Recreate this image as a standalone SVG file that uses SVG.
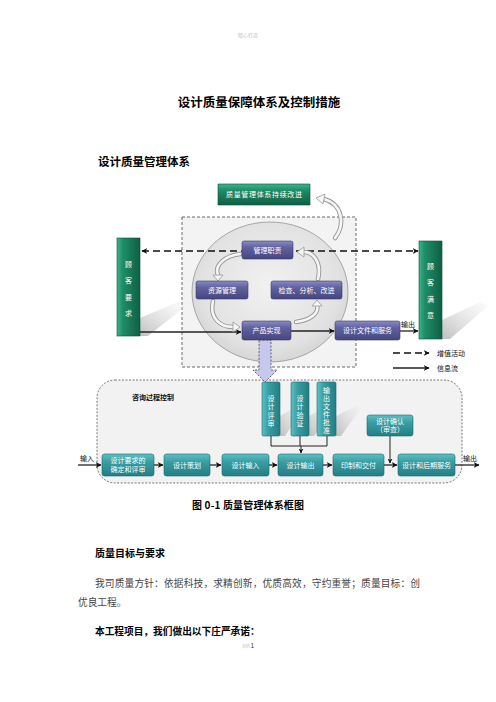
<svg xmlns="http://www.w3.org/2000/svg" width="496" height="702" viewBox="0 0 496 702">
<defs>
<style>
.cjk{font-family:"Noto Sans CJK SC","Noto Sans",sans-serif}
.hd{font-family:"Noto Sans CJK SC",sans-serif;font-weight:bold;fill:#000}
.body{font-family:"Noto Sans CJK SC",sans-serif;fill:#444}
.wt{font-family:"Noto Sans CJK SC",sans-serif;fill:#fff;font-size:7px;text-anchor:middle}
.lbl{font-family:"Noto Sans CJK SC",sans-serif;fill:#111;font-size:7px}
.green{fill:url(#gGreen);stroke:#0d4f39;stroke-width:0.6}
.purple{fill:url(#gPurple);stroke:#3a3a6e;stroke-width:0.6}
.teal{fill:url(#gTeal);stroke:#1a6a70;stroke-width:0.6}
.solid{stroke:#222;stroke-width:1.3;fill:none}
.dash{stroke:#111;stroke-width:1.6;fill:none;stroke-dasharray:7 4}
.conn{stroke:#222;stroke-width:1;fill:none}
.cout{stroke:#999;stroke-width:4.5;fill:none;stroke-linecap:round}
.cin{stroke:#f6f6f6;stroke-width:2.6;fill:none;stroke-linecap:round}
.chead{fill:#f6f6f6;stroke:#999;stroke-width:0.8}
.shadow{fill:url(#gShadow)}
</style>
<linearGradient id="gGreen" x1="0" y1="0" x2="1" y2="0">
<stop offset="0" stop-color="#3db58c"/><stop offset="0.25" stop-color="#1f8d67"/><stop offset="1" stop-color="#0f5f44"/>
</linearGradient>
<linearGradient id="gGreenH" x1="0" y1="0" x2="0" y2="1">
<stop offset="0" stop-color="#3db58c"/><stop offset="0.3" stop-color="#1f8d67"/><stop offset="1" stop-color="#0f5f44"/>
</linearGradient>
<linearGradient id="gPurple" x1="0" y1="0" x2="0" y2="1">
<stop offset="0" stop-color="#8a8ac6"/><stop offset="0.35" stop-color="#62629f"/><stop offset="1" stop-color="#45457f"/>
</linearGradient>
<linearGradient id="gTeal" x1="0" y1="0" x2="0" y2="1">
<stop offset="0" stop-color="#5cc0c4"/><stop offset="0.35" stop-color="#3a9ea3"/><stop offset="1" stop-color="#237e84"/>
</linearGradient>
<linearGradient id="gTealV" x1="0" y1="0" x2="1" y2="0">
<stop offset="0" stop-color="#5cc0c4"/><stop offset="0.35" stop-color="#3a9ea3"/><stop offset="1" stop-color="#237e84"/>
</linearGradient>
<linearGradient id="gShadow" x1="0" y1="1" x2="1" y2="0">
<stop offset="0" stop-color="#b8b8b8" stop-opacity="0.9"/><stop offset="1" stop-color="#e8e8e8" stop-opacity="0.2"/>
</linearGradient>
<radialGradient id="gCircle" cx="0.5" cy="0.45" r="0.55">
<stop offset="0" stop-color="#f1f1f1"/><stop offset="0.8" stop-color="#e2e2e2"/><stop offset="1" stop-color="#d6d6d6"/>
</radialGradient>
<marker id="ah" viewBox="0 0 10 10" refX="9" refY="5" markerWidth="6" markerHeight="6" orient="auto-start-reverse" markerUnits="userSpaceOnUse">
<path d="M0,0 L10,5 L0,10 L3,5 z" fill="#111"/>
</marker>
<marker id="ahs" viewBox="0 0 10 10" refX="9" refY="5" markerWidth="5" markerHeight="5" orient="auto" markerUnits="userSpaceOnUse">
<path d="M0,0 L10,5 L0,10 L3,5 z" fill="#111"/>
</marker>
</defs>

<rect x="0" y="0" width="496" height="702" fill="#fff"/>

<!-- page texts -->
<text x="248" y="37" class="cjk" font-size="5" fill="#c4c4c4" text-anchor="middle">精心打造</text>
<text x="259" y="107" class="hd" font-size="12.5" text-anchor="middle">设计质量保障体系及控制措施</text>
<text x="98" y="166" class="hd" font-size="11.5">设计质量管理体系</text>

<!-- background containers -->
<g id="upper-frame">
<rect x="182" y="217" width="174" height="150" fill="#f3f3f3" stroke="#444" stroke-width="0.8" stroke-dasharray="3 2"/>
<ellipse cx="270" cy="292" rx="78" ry="70" fill="url(#gCircle)" stroke="#8a8a8a" stroke-width="0.7"/>
</g>
<g id="lower-frame">
<rect x="97" y="380" width="365" height="103" rx="18" fill="#f2f2f2" stroke="#444" stroke-width="0.7" stroke-dasharray="2 1.5"/>
<text x="132" y="399.5" class="lbl" font-size="7" font-weight="bold">咨询过程控制</text>
</g>

<!-- shadows -->
<polygon class="shadow" points="140,318 178,302 186,306 148,336 140,336"/>
<polygon class="shadow" points="442,320 480,302 488,306 450,339 442,339"/>
<polygon class="shadow" points="280,416 298,406 302,410 285,436 280,436"/>
<polygon class="shadow" points="309,416 327,406 331,410 314,436 309,436"/>
<polygon class="shadow" points="336,416 356,406 360,410 341,436 336,436"/>

<!-- connectors -->
<g id="connectors">
<line class="dash" x1="142" y1="251" x2="418" y2="251" marker-start="url(#ah)" marker-end="url(#ah)"/>
<line class="solid" x1="140" y1="332" x2="241" y2="332" marker-end="url(#ah)"/>
<line class="solid" x1="291" y1="331" x2="334" y2="331" marker-end="url(#ah)"/>
<line class="solid" x1="400" y1="331" x2="418" y2="331" marker-end="url(#ah)"/>
<text x="401" y="327" class="lbl" font-size="7">输出</text>

<!-- cycle arrows -->
<path class="cout" d="M240 254 C224 256 214 266 218 275"/>
<path class="cin" d="M240 254 C224 256 214 266 218 275"/>
<polygon class="chead" points="213,275 223,275 218,281"/>
<path class="cout" d="M213 301 C209 318 220 327 233 327"/>
<path class="cin" d="M213 301 C209 318 220 327 233 327"/>
<polygon class="chead" points="233,322 233,332 240,327"/>
<path class="cout" d="M296 322 C312 320 319 312 317 306"/>
<path class="cin" d="M296 322 C312 320 319 312 317 306"/>
<polygon class="chead" points="312,306 322,306 317,300"/>
<path class="cout" d="M318 279 C322 262 313 252 304 252"/>
<path class="cin" d="M318 279 C322 262 313 252 304 252"/>
<polygon class="chead" points="304,247 304,257 297,252"/>
<path class="cout" d="M335 238 C346 224 342 204 324 199"/>
<path class="cin" d="M335 238 C346 224 342 204 324 199"/>
<polygon class="chead" points="325,194 323,204 316,198"/>

<!-- big down arrow -->
<polygon points="259,340 271,340 271,370 277,370 265,382 253,370 259,370" fill="#c8c8ee" stroke="#333" stroke-width="0.7" stroke-dasharray="2 1.5"/>

<!-- lower connectors -->
<polyline class="conn" points="271,436 271,446 327,446 327,436"/>
<line class="conn" x1="300" y1="436" x2="300" y2="446"/>
<line class="conn" x1="301" y1="446" x2="301" y2="453" marker-end="url(#ahs)"/>
<line class="conn" x1="390" y1="436" x2="390" y2="463" marker-end="url(#ahs)"/>
<line class="solid" x1="78" y1="465" x2="101" y2="465" marker-end="url(#ah)"/>
<text x="80" y="461" class="lbl" font-size="7">输入</text>
<line class="solid" x1="154" y1="465" x2="163" y2="465" marker-end="url(#ah)"/>
<line class="solid" x1="210" y1="465" x2="221" y2="465" marker-end="url(#ah)"/>
<line class="solid" x1="269" y1="465" x2="277" y2="465" marker-end="url(#ah)"/>
<line class="solid" x1="323" y1="465" x2="332" y2="465" marker-end="url(#ah)"/>
<line class="solid" x1="384" y1="465" x2="397" y2="465" marker-end="url(#ah)"/>
<line class="solid" x1="455" y1="465" x2="479" y2="465" marker-end="url(#ah)"/>
<text x="463" y="461" class="lbl" font-size="7">输出</text>

<!-- legend -->
<line class="dash" x1="393" y1="353" x2="429" y2="353" stroke-dasharray="6 4" marker-end="url(#ah)"/>
<text x="437" y="356" class="lbl" font-size="7">增值活动</text>
<line class="solid" x1="393" y1="368" x2="429" y2="368" marker-end="url(#ah)"/>
<text x="437" y="371" class="lbl" font-size="7">信息流</text>
</g>

<!-- nodes -->
<g id="n-improve">
<rect x="218" y="184" width="92" height="21" fill="url(#gGreenH)" stroke="#0d4f39" stroke-width="0.6"/>
<text x="264" y="197" class="wt" textLength="76">质量管理体系持续改进</text>
</g>
<g id="n-customer-req">
<rect class="green" x="117" y="238" width="23" height="98"/>
<text x="128.5" y="266.5" class="wt">顾</text>
<text x="128.5" y="283" class="wt">客</text>
<text x="128.5" y="299.5" class="wt">要</text>
<text x="128.5" y="315.5" class="wt">求</text>
</g>
<g id="n-customer-sat">
<rect class="green" x="419" y="241" width="23" height="98"/>
<text x="430.5" y="268.5" class="wt">顾</text>
<text x="430.5" y="285" class="wt">客</text>
<text x="430.5" y="301.5" class="wt">满</text>
<text x="430.5" y="317.5" class="wt">意</text>
</g>
<g id="n-mgmt">
<rect class="purple" x="242" y="241" width="51" height="18" rx="2"/>
<text x="267.5" y="252.5" class="wt">管理职责</text>
</g>
<g id="n-resource">
<rect class="purple" x="196" y="281" width="52" height="18" rx="2"/>
<text x="222" y="292.5" class="wt">资源管理</text>
</g>
<g id="n-check">
<rect class="purple" x="271" y="281" width="71" height="18" rx="2"/>
<text x="306.5" y="292.5" class="wt" font-size="7.5">检查、分析、改进</text>
</g>
<g id="n-product">
<rect class="purple" x="242" y="321" width="49" height="19" rx="2"/>
<text x="266.5" y="333" class="wt">产品实现</text>
</g>
<g id="n-docs">
<rect class="purple" x="335" y="321" width="65" height="19" rx="2"/>
<text x="367.5" y="333" class="wt">设计文件和服务</text>
</g>

<g id="n-review">
<rect x="262" y="382" width="18" height="54" rx="1.5" fill="url(#gTealV)" stroke="#1a6a70" stroke-width="0.6"/>
<text x="271" y="400.5" class="wt">设</text>
<text x="271" y="409" class="wt">计</text>
<text x="271" y="417.5" class="wt">评</text>
<text x="271" y="426" class="wt">审</text>
</g>
<g id="n-verify">
<rect x="291" y="382" width="18" height="54" rx="1.5" fill="url(#gTealV)" stroke="#1a6a70" stroke-width="0.6"/>
<text x="300" y="400.5" class="wt">设</text>
<text x="300" y="409" class="wt">计</text>
<text x="300" y="417.5" class="wt">验</text>
<text x="300" y="426" class="wt">证</text>
</g>
<g id="n-approve">
<rect x="317" y="382" width="19" height="54" rx="1.5" fill="url(#gTealV)" stroke="#1a6a70" stroke-width="0.6"/>
<text x="326.5" y="387" class="wt" style="writing-mode:vertical-rl;text-anchor:start;letter-spacing:1px">输出文件批准</text>
</g>
<g id="n-confirm">
<rect class="teal" x="367" y="415" width="46" height="21" rx="2.5"/>
<text class="wt" font-size="6.5"><tspan x="390" y="423.5">设计确认</tspan><tspan x="390" y="432">（审查）</tspan></text>
</g>

<g id="n-req">
<rect class="teal" x="102" y="454" width="52" height="22" rx="2.5"/>
<text class="wt" font-size="6.5"><tspan x="128" y="463">设计要求的</tspan><tspan x="128" y="471.5">确定和评审</tspan></text>
</g>
<g id="n-plan">
<rect class="teal" x="164" y="454" width="46" height="22" rx="2.5"/>
<text x="187" y="467.5" class="wt">设计策划</text>
</g>
<g id="n-input">
<rect class="teal" x="222" y="454" width="47" height="22" rx="2.5"/>
<text x="245.5" y="467.5" class="wt">设计输入</text>
</g>
<g id="n-output">
<rect class="teal" x="278" y="454" width="45" height="22" rx="2.5"/>
<text x="300.5" y="467.5" class="wt">设计输出</text>
</g>
<g id="n-print">
<rect class="teal" x="333" y="454" width="51" height="22" rx="2.5"/>
<text x="358.5" y="467.5" class="wt">印制和交付</text>
</g>
<g id="n-service">
<rect class="teal" x="398" y="454" width="57" height="22" rx="2.5"/>
<text x="426.5" y="467.5" class="wt">设计和后期服务</text>
</g>

<!-- caption and body text -->
<text x="192" y="509" class="hd" font-size="10" textLength="112">图 0-1 质量管理体系框图</text>
<text x="95" y="557" class="hd" font-size="10">质量目标与要求</text>
<text x="95" y="587" class="body" font-size="9.7" textLength="325">我司质量方针：依据科技，求精创新，优质高效，守约重誉；质量目标：创</text>
<text x="78" y="606" class="body" font-size="9.7">优良工程。</text>
<text x="95" y="635" class="hd" font-size="9.7">本工程项目，我们做出以下庄严承诺：</text>
<text x="250" y="648" class="cjk" font-size="4" fill="#bbb" text-anchor="end">页码</text>
<text x="250.5" y="648" class="cjk" font-size="6.5" fill="#333">1</text>
</svg>
